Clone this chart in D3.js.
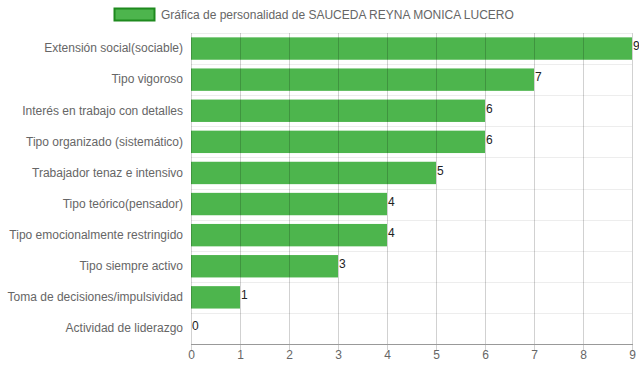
<!DOCTYPE html>
<html>
<head>
<meta charset="utf-8">
<script src="https://cdn.jsdelivr.net/npm/d3@7"></script>
<style>
  body { margin: 0; background: #fff; }
  text { font-family: "Liberation Sans", Arial, sans-serif; }
</style>
</head>
<body>
<svg id="chart" width="639" height="372"></svg>
<script>
// datos de la grafica
const categorias = [
  "Extensión social(sociable)",
  "Tipo vigoroso",
  "Interés en trabajo con detalles",
  "Tipo organizado (sistemático)",
  "Trabajador tenaz e intensivo",
  "Tipo teórico(pensador)",
  "Tipo emocionalmente restringido",
  "Tipo siempre activo",
  "Toma de decisiones/impulsividad",
  "Actividad de liderazgo"
];
const valores = [9, 7, 6, 6, 5, 4, 4, 3, 1, 0];
const ticks = [0, 1, 2, 3, 4, 5, 6, 7, 8, 9];
const titulo = "Gráfica de personalidad de SAUCEDA REYNA MONICA LUCERO";

const svg = d3.select("#chart");
const mLeft = 191, mRight = 632, mTop = 33, mBottom = 344;

const x = d3.scaleLinear().domain([0, 9]).range([mLeft, mRight]);
const y = d3.scaleBand().domain(categorias).range([mTop, mBottom]).paddingInner(0.28).paddingOuter(0.14);
const yRows = d3.scaleBand().domain(categorias).range([mTop, mBottom]);

//barras
svg.append("g")
  .selectAll("rect")
  .data(valores)
  .join("rect")
  .attr("x", x(0))
  .attr("y", (d, i) => y(categorias[i]))
  .attr("width", d => x(d) - x(0))
  .attr("height", y.bandwidth())
  .attr("fill", "#4db54d");

//lineas horizontales de fondo
svg.append("g")
  .selectAll("line")
  .data(categorias)
  .join("line")
  .attr("x1", mLeft)
  .attr("x2", mRight)
  .attr("y1", d => Math.round(yRows(d)) + 0.5)
  .attr("y2", d => Math.round(yRows(d)) + 0.5)
  .attr("stroke", "rgba(0,0,0,0.07)")
  .attr("stroke-width", 1);

//lineas verticales (encima de las barras)
svg.append("g")
  .selectAll("line")
  .data(ticks)
  .join("line")
  .attr("x1", d => Math.round(x(d)) + 0.5)
  .attr("x2", d => Math.round(x(d)) + 0.5)
  .attr("y1", mTop)
  .attr("y2", mBottom + 6)
  .attr("stroke", "rgba(0,0,0,0.18)")
  .attr("stroke-width", 1);

//eje inferior
svg.append("line")
  .attr("x1", mLeft)
  .attr("x2", mRight + 1)
  .attr("y1", mBottom + 0.5)
  .attr("y2", mBottom + 0.5)
  .attr("stroke", "#999")
  .attr("stroke-width", 1);

const xAxis = svg.append("g")
  .attr("transform", `translate(0,${mBottom})`)
  .call(d3.axisBottom(x).tickValues(ticks).tickSize(0).tickPadding(6).tickFormat(d3.format("d")));
xAxis.select(".domain").remove();
xAxis.selectAll("text").attr("font-size", 12).attr("fill", "#666").style("font-family", "'Liberation Sans', Arial, sans-serif");

//etiquetas de categorias
const yAxis = svg.append("g")
  .attr("transform", `translate(${mLeft},0)`)
  .call(d3.axisLeft(yRows).tickSize(0).tickPadding(8));
yAxis.select(".domain").remove();
yAxis.selectAll("text").attr("font-size", 12).attr("fill", "#666").style("font-family", "'Liberation Sans', Arial, sans-serif");

//valores sobre las barras
svg.append("g")
  .selectAll("text")
  .data(valores)
  .join("text")
  .attr("x", d => x(d) + 1)
  .attr("y", (d, i) => y(categorias[i]) + 13)
  .attr("font-size", 12)
  .attr("fill", "#222")
  .text(d => d);

//leyenda
svg.append("rect")
  .attr("x", 114.5)
  .attr("y", 8.5)
  .attr("width", 40)
  .attr("height", 12)
  .attr("fill", "#4db54d")
  .attr("stroke", "#1e8a1e")
  .attr("stroke-width", 2);
svg.append("text")
  .attr("x", 161)
  .attr("y", 18.5)
  .attr("font-size", 12)
  .attr("fill", "#666")
  .text(titulo);
</script>
</body>
</html>
